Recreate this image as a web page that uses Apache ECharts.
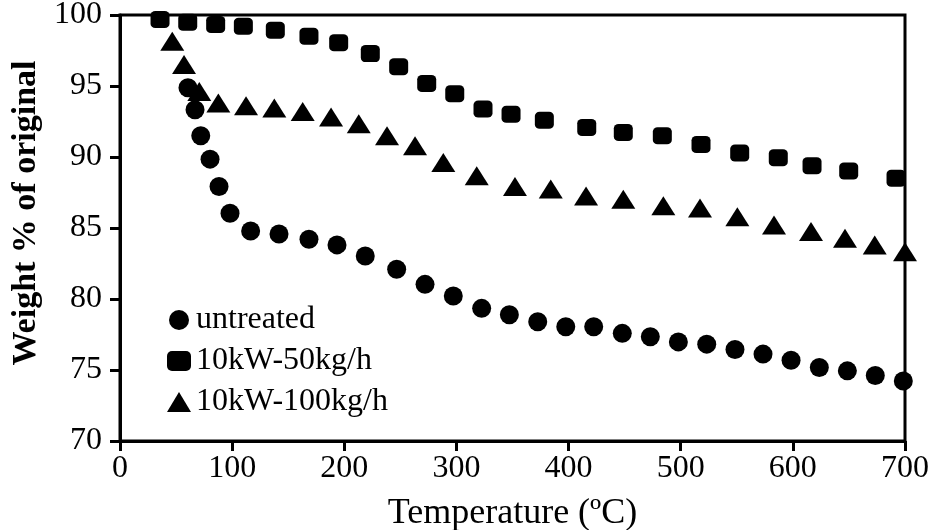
<!DOCTYPE html>
<html>
<head>
<meta charset="utf-8">
<script src="https://cdn.jsdelivr.net/npm/echarts@6/dist/echarts.min.js"></script>
<style>html,body{margin:0;padding:0;background:#fff}#c{width:936px;height:530px}</style>
</head>
<body>
<div id="c"></div>
<script>
// Temperature (°C) and weight % for each series
const untreatedT = [60.6,66.9,72.0,80.3,88.3,98.1,116.5,141.8,168.5,193.5,218.7,246.7,272.0,297.2,322.5,347.2,372.5,397.5,422.4,447.9,472.9,497.9,523.2,548.4,573.4,598.4,623.6,648.6,673.5,698.5];
const untreatedW = [94.88,93.33,91.50,89.85,87.92,86.04,84.79,84.58,84.21,83.81,83.03,82.09,81.03,80.21,79.34,78.89,78.40,78.04,78.04,77.58,77.34,76.98,76.82,76.45,76.12,75.69,75.18,74.94,74.61,74.23];

const kw50T = [35.7,60.4,85.3,110.0,138.5,168.5,195.0,223.2,248.5,273.5,298.5,323.7,348.7,378.4,416.2,448.8,483.6,518.1,552.6,587.0,617.1,649.8,692.0];
const kw50W = [99.68,99.49,99.33,99.21,98.93,98.50,98.04,97.28,96.35,95.17,94.46,93.38,93.01,92.58,92.08,91.73,91.50,90.88,90.28,89.95,89.38,89.01,88.51];

const kw100T = [46.6,57.1,70.7,87.7,112.4,137.6,162.9,188.2,212.9,238.1,263.1,288.3,318.1,352.2,384.1,415.6,448.8,484.5,517.2,550.5,583.2,616.2,646.5,673.0,700.0];
const kw100W = [98.15,96.51,94.62,93.81,93.61,93.45,93.21,92.82,92.34,91.50,90.79,89.61,88.68,87.92,87.74,87.26,87.03,86.56,86.40,85.80,85.22,84.75,84.28,83.81,83.33];

const seriesNames = ['untreated', '10kW-50kg/h', '10kW-100kg/h'];
const xTicks = [0, 100, 200, 300, 400, 500, 600, 700];
const yTicks = [70, 75, 80, 85, 90, 95, 100];

const zip = (a, b) => a.map((v, i) => [v, b[i]]);
const font = 'Liberation Serif';

const chart = echarts.init(document.getElementById('c'), null, {renderer: 'canvas'});
chart.setOption({
  animation: false,
  backgroundColor: '#fff',
  grid: {left: 120, right: 31, top: 15, bottom: 89, containLabel: false, outerBoundsMode: 'none',
         show: true, borderColor: '#000', borderWidth: 3, backgroundColor: 'transparent'},
  xAxis: {
    type: 'value', min: xTicks[0], max: xTicks[xTicks.length - 1], interval: 100,
    name: 'Temperature (\u00BAC)', nameLocation: 'middle', nameGap: 55,
    nameTextStyle: {fontFamily: font, fontSize: 36, color: '#000'},
    axisLine: {lineStyle: {color: '#000', width: 3}},
    axisTick: {length: 10, lineStyle: {color: '#000', width: 3}},
    axisLabel: {fontFamily: font, fontSize: 32, color: '#000', margin: 12},
    splitLine: {show: false}
  },
  yAxis: {
    type: 'value', min: yTicks[0], max: yTicks[yTicks.length - 1], interval: 5,
    name: 'Weight % of original', nameLocation: 'middle', nameGap: 77,
    nameTextStyle: {fontFamily: font, fontSize: 34, fontWeight: 'bold', color: '#000', padding: [0, 0, 0, 30]},
    axisLine: {lineStyle: {color: '#000', width: 3}},
    axisTick: {length: 10, lineStyle: {color: '#000', width: 3}},
    axisLabel: {fontFamily: font, fontSize: 32, color: '#000', margin: 18},
    splitLine: {show: false}
  },
  legend: {
    orient: 'vertical', left: 162, top: 299, itemGap: 9,
    itemWidth: 24, itemHeight: 20,
    itemStyle: {opacity: 1},
    textStyle: {fontFamily: font, fontSize: 32, color: '#000'},
    data: [
      {name: seriesNames[0], icon: 'circle'},
      {name: seriesNames[1], icon: 'roundRect'},
      {name: seriesNames[2], icon: 'triangle'}
    ]
  },
  series: [
    {name: seriesNames[0], type: 'scatter', symbol: 'circle', symbolSize: 19,
     itemStyle: {color: '#000', opacity: 1}, data: zip(untreatedT, untreatedW)},
    {name: seriesNames[1], type: 'scatter', symbol: 'roundRect', symbolSize: [19, 17],
     itemStyle: {color: '#000', opacity: 1}, data: zip(kw50T, kw50W)},
    {name: seriesNames[2], type: 'scatter', symbol: 'triangle', symbolSize: [24, 19],
     itemStyle: {color: '#000', opacity: 1}, data: zip(kw100T, kw100W)}
  ]
});
</script>
</body>
</html>
